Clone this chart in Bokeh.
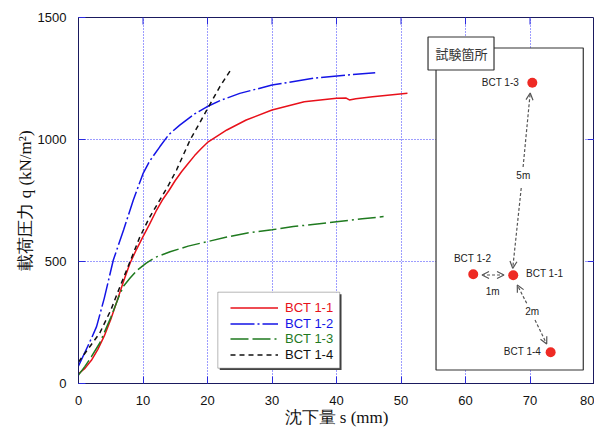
import math
from bokeh.plotting import figure
from bokeh.models import (Range1d, FixedTicker, Label, Legend, LegendItem,
                          Arrow, OpenHead, BoxAnnotation)
from bokeh.embed import file_html
from bokeh.resources import INLINE

# ---------------- data ----------------
s_bct11 = [0, 1, 2, 3, 4, 5, 6, 7, 8, 9, 10, 11, 12, 13, 14, 15, 16, 17, 18, 19, 20,
           23, 26, 30, 35, 40, 41.5, 42, 43, 45.6, 51]
q_bct11 = [40, 62, 95, 140, 195, 262, 340, 420, 494, 550, 602, 652, 705, 752, 790, 832,
           869, 902, 934, 962, 988, 1039, 1080, 1121, 1155, 1169, 1170, 1162, 1167, 1175,
           1190]

s_bct12 = [0, 1, 2, 2.8, 4, 5.4, 7, 8.5, 10, 11, 12.6, 14, 15.7, 18, 19.9, 22, 25,
           30, 36.4, 41.6, 46]
q_bct12 = [72, 128, 185, 233, 350, 506, 630, 752, 860, 910, 970, 1020, 1059, 1105,
           1134, 1160, 1189, 1223, 1251, 1264, 1274]

s_bct13 = [0, 1, 2, 3.3, 5, 6.4, 7, 8, 9, 10.5, 12, 14.2, 17, 19.9, 23, 26, 30, 33.3,
           37, 40, 44, 47.3]
q_bct13 = [35, 70, 110, 166, 270, 365, 400, 432, 462, 493, 518, 540, 563, 581, 600,
           616, 630, 643, 654, 663, 675, 684]

s_bct14 = [0, 1, 2, 3.3, 5, 6.4, 8, 9.5, 11, 12.6, 14, 15.2, 17.3, 19.9, 21.9, 23.5]
q_bct14 = [88, 124, 160, 207, 300, 395, 500, 600, 680, 752, 815, 875, 998, 1121,
           1216, 1281]

series_names = ["BCT 1-1", "BCT 1-2", "BCT 1-3", "BCT 1-4"]
x_ticks = [0, 10, 20, 30, 40, 50, 60, 70, 80]
y_ticks = [0, 500, 1000, 1500]

# inset (test site map), in chart units
site_names = ["BCT 1-1", "BCT 1-2", "BCT 1-3", "BCT 1-4"]
site_x = [67.4, 61.2, 70.36, 73.2]
site_y = [443.4, 447.5, 1232.8, 127.9]
site_label_x = [69.38, 61.09, 68.29, 71.71]
site_label_y = [448.8, 514.3, 1232.8, 129.1]
site_label_align = ["left", "center", "right", "right"]
dist_labels = ["5m", "1m", "2m"]
dist_x = [68.96, 64.22, 70.34]
dist_y = [854.5, 376.2, 294.3]

C_RED = "#e8101a"
C_BLUE = "#1414e6"
C_GREEN = "#1f7a1f"
C_BLACK = "#111111"
colors = [C_RED, C_BLUE, C_GREEN, C_BLACK]
dashes = ["solid", "24 3 2 3", "18 4 18 4 2 4", "5 4"]

TICK_C = "#2a2ae0"
FRAME_C = "#1a1a5e"
GRID_C = "#3a3aff"
LBL_FONT = "Liberation Serif"

p = figure(width=594, height=429, x_range=Range1d(0, 80), y_range=Range1d(0, 1500),
           output_backend="svg", toolbar_location=None,
           min_border_left=78, min_border_right=0, min_border_top=17, min_border_bottom=46)
p.background_fill_color = "white"
p.border_fill_color = "white"
p.outline_line_color = FRAME_C
p.outline_line_width = 1

p.xaxis.ticker = FixedTicker(ticks=x_ticks)
p.yaxis.ticker = FixedTicker(ticks=y_ticks)
p.xgrid.ticker = FixedTicker(ticks=x_ticks)
p.ygrid.ticker = FixedTicker(ticks=y_ticks)
for ax in (p.xaxis, p.yaxis):
    ax.major_tick_in = 7
    ax.major_tick_out = 0
    ax.minor_tick_in = 0
    ax.minor_tick_out = 0
    ax.major_tick_line_color = TICK_C
    ax.axis_line_color = FRAME_C
    ax.major_label_text_font = "Liberation Sans"
    ax.major_label_text_font_size = "13px"
    ax.major_label_text_color = "#111111"
    ax.major_label_standoff = 12
    ax.axis_label_text_font = LBL_FONT
    ax.axis_label_text_font_size = "17px"
    ax.axis_label_text_font_style = "normal"
    ax.axis_label_text_color = "#111111"
    ax.axis_label_standoff = 0
p.xaxis.axis_label = "沈下量 s (mm)"
p.yaxis.axis_label = "載荷圧力 q (kN/m²)"
p.grid.grid_line_color = GRID_C
p.grid.grid_line_dash = "1 2"
p.grid.grid_line_width = 1

# mirrored ticks on top/right
p.scatter([80, 80], [500, 1000], marker="dash", size=14, line_color=TICK_C, line_width=1)
p.scatter(x_ticks[1:-1], [1500] * 7, marker="dash", size=14, angle=math.pi / 2,
          line_color=TICK_C, line_width=1)

# curves
xs = [s_bct11, s_bct12, s_bct13, s_bct14]
ys = [q_bct11, q_bct12, q_bct13, q_bct14]
renderers = []
for sx, qy, c, d in zip(xs, ys, colors, dashes):
    r = p.line(sx, qy, line_color=c, line_width=1.5, line_dash=d)
    renderers.append(r)

# inset box
p.quad(left=55.43, right=78.26, bottom=55.3, top=1375.0,
       fill_color="white", line_color="#333333", line_width=1.2)
p.quad(left=54.19, right=64.42, bottom=1284.8, top=1420.1,
       fill_color="white", line_color="#333333", line_width=1.2)
p.add_layout(Label(x=59.38, y=1351.6, text="試験箇所", text_font="Noto Sans CJK JP",
                   text_font_size="13px", text_color="#333333",
                   text_align="center", text_baseline="middle"))
p.scatter(site_x, site_y, size=10, fill_color="#ee2a24", line_color=None)
for nm, lx, ly, al in zip(site_names, site_label_x, site_label_y, site_label_align):
    p.add_layout(Label(x=lx, y=ly, text=nm, text_font="Liberation Sans",
                       text_font_size="10px", text_color="#222222",
                       text_align=al, text_baseline="middle"))
for nm, lx, ly in zip(dist_labels, dist_x, dist_y):
    p.add_layout(Label(x=lx, y=ly, text=nm, text_font="Liberation Sans",
                       text_font_size="10px", text_color="#222222",
                       text_align="center", text_baseline="middle"))

ARW = "#555555"
def head():
    return OpenHead(size=7, line_color=ARW, line_width=1.2)
arrows = [
    (68.93, 887.3, 70.03, 1190.6, False),
    (68.64, 801.2, 67.32, 472.1, False),
    (62.56, 444.7, 65.97, 444.7, True),
    (69.49, 328.7, 68.03, 403.7, False),
    (70.78, 260.2, 72.59, 162.0, False),
]
for x0, y0, x1, y1, both in arrows:
    p.add_layout(Arrow(x_start=x0, y_start=y0, x_end=x1, y_end=y1,
                       line_color=ARW, line_width=1.2, line_dash="3 2",
                       end=head(), start=head() if both else None))

# legend: shadow + box, then one transparent legend per row (own text colour)
p.add_layout(BoxAnnotation(left=21.9, right=40.78, top=366.0, bottom=55.3,
                           fill_color="#444444", fill_alpha=1, line_color=None))
p.add_layout(BoxAnnotation(left=21.6, right=40.5, top=374.2, bottom=62.7,
                           fill_color="white", fill_alpha=1, line_color="#111111",
                           line_width=1))
row_offsets = [68, 52, 37, 21]
for n, r, c, off in zip(series_names, renderers, colors, row_offsets):
    lg = Legend(items=[LegendItem(label=n, renderers=[r])], location=(152, off),
                border_line_color=None, background_fill_alpha=0,
                label_text_font="Liberation Sans", label_text_font_size="13px",
                label_text_color=c, glyph_width=48, glyph_height=15, label_height=15,
                spacing=0, padding=0, margin=0, label_standoff=7)
    p.add_layout(lg, "center")

open("out.html", "w").write(file_html(p, INLINE))
